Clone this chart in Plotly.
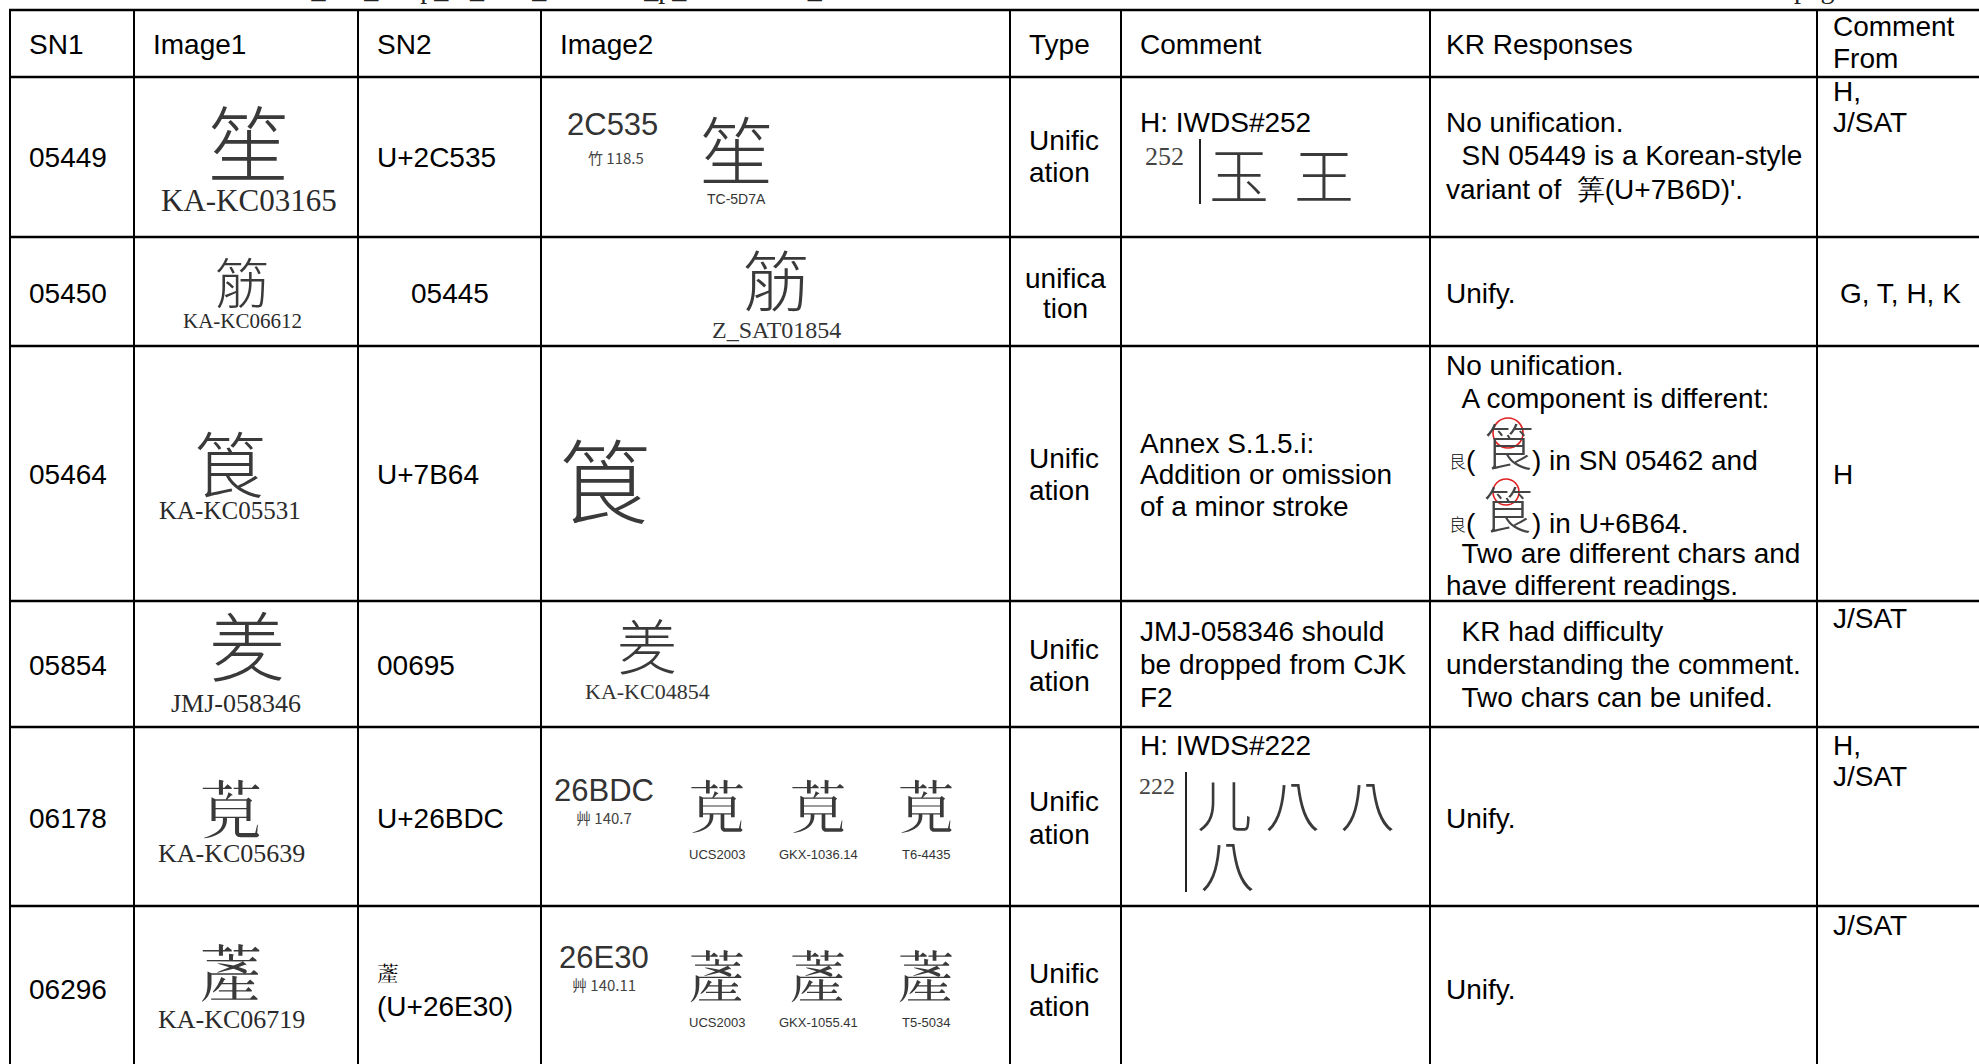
import plotly.graph_objects as go

# ---------------- data (texts of the table) ----------------
HEADERS = ["SN1", "Image1", "SN2", "Image2", "Type", "Comment", "KR Responses", ["Comment", "From"]]
SN1 = ["05449", "05450", "05464", "05854", "06178", "06296"]
SN2 = [["U+2C535"], ["05445"], ["U+7B64"], ["00695"], ["U+26BDC"], ["𦸰", "(U+26E30)"]]
IMG1_CHAR = ["笙", "筋", "筤", "羑", "𦯜", "𦸰"]
IMG1_LABEL = ["KA-KC03165", "KA-KC06612", "KA-KC05531", "JMJ-058346", "KA-KC05639", "KA-KC06719"]
IMG2_CODE = ["2C535", "", "", "", "26BDC", "26E30"]
IMG2_RADICAL = ["竹 118.5", "", "", "", "艸 140.7", "艸 140.11"]
IMG2_CHARS = [["笙"], ["筋"], ["筤"], ["羑"], ["𦯜", "𦯜", "𦯜"], ["𦸰", "𦸰", "𦸰"]]
IMG2_LABELS = [["TC-5D7A"], ["Z_SAT01854"], [""], ["KA-KC04854"],
               ["UCS2003", "GKX-1036.14", "T6-4435"], ["UCS2003", "GKX-1055.41", "T5-5034"]]
TYPE = [["Unific", "ation"], ["unifica", "tion"], ["Unific", "ation"],
        ["Unific", "ation"], ["Unific", "ation"], ["Unific", "ation"]]
COMMENT = [["H: IWDS#252"], [], ["Annex S.1.5.i:", "Addition or omission", "of a minor stroke"],
           ["JMJ-058346 should", "be dropped from CJK", "F2"], ["H: IWDS#222"], []]
IWDS_NO = ["252", "", "", "", "222", ""]
IWDS_GLYPHS = [[["玉", "王"]], [], [], [], [["儿", "八", "八"], ["八"]], []]
NB = "\u00a0\u00a0"
KR = [["No unification.", NB + "SN 05449 is a Korean-style", "variant of  筭(U+7B6D)'."],
      ["Unify."],
      ["No unification.", NB + "A component is different:", None, None,
       NB + "Two are different chars and", "have different readings."],
      [NB + "KR had difficulty", "understanding the comment.", NB + "Two chars can be unifed."],
      ["Unify."],
      ["Unify."]]
KR_COMPONENTS = [("艮", "筤", ") in SN 05462 and"), ("良", "筤", ") in U+6B64.")]
FROM = [["H,", "J/SAT"], ["G, T, H, K"], ["H"], ["J/SAT"], ["H,", "J/SAT"], ["J/SAT"]]
# running header of the page, cut off by the top edge (only descenders show)
PAGE_HEADER = ["IRGN2493_KR_Resp_to_IRG_WS2021_p_Comments_v", "page"]

# ---------------- layout (geometry, pixels) ----------------
W, H = 1979, 1064
COL_EDGES = [10, 134, 358, 541, 1010, 1121, 1430, 1817]
ROW_EDGES = [10, 77, 237, 346, 601, 727, 906]
PAD = 17
SANS = "Liberation Sans, Arial, sans-serif"
NARROW = "Liberation Sans Narrow, Liberation Sans, Arial, sans-serif"
SERIF = "Liberation Serif, Times New Roman, serif"
CJK = "Noto Sans CJK TC, Noto Sans CJK SC, Noto Sans CJK JP, Noto Sans CJK KR, sans-serif"
FS = 28
GLYPH_COLOR = "#3a3a3a"

PAGE_HEADER_X = [185, 1792]
PAGE_HEADER_SHIFT = -6
HEADER_Y = [44, 44, 44, 44, 44, 44, 44, [26, 58]]
SN1_Y = [157, 293, 474, 665, 818, 989]
SN2_Y = [[157], [293], [474], [665], [818], [972, 1006]]
IMG1_POS = [(248, 139, 82), (242, 280, 54), (230, 460, 72), (247, 643, 76), (231, 806, 64), (231, 970, 64)]
IMG1_LBL_POS = [(249, 200, 31), (242, 321, 21), (230, 510, 25), (236, 703, 26), (231, 853, 26), (231, 1019, 26)]
IMG2_CODE_POS = [(612, 124), None, None, None, (604, 790), (604, 957)]
IMG2_RAD_POS = [(616, 157), None, None, None, (604, 817), (604, 984)]
IMG2_POS = [[(736, 146, 74)], [(776, 277, 66)], [(605, 476, 92)], [(647, 643, 60)],
            [(717, 804, 58), (818, 804, 58), (926, 804, 58)],
            [(717, 974, 58), (818, 974, 58), (926, 974, 58)]]
IMG2_LBL_Y = [(199, 14, NARROW), (330, 24, SERIF), (0, 0, SERIF), (691, 22, SERIF), (854, 13, NARROW), (1022, 13, NARROW)]
TYPE_Y = [[140, 172], [278, 308], [458, 490], [649, 681], [801, 834], [973, 1006]]
COMMENT_Y = [[122], [], [443, 474, 506], [631, 664, 697], [745], []]
IWDS_LAYOUT = [dict(num=(1143, 140, 26), bar=(1200, 139, 204), rows=[[(1239, 172), (1324, 172)]], size=60),
               None, None, None,
               dict(num=(1137, 771, 24), bar=(1186, 772, 892),
                    rows=[[(1224, 802), (1292, 802), (1367, 802)], [(1227, 862)]], size=55),
               None]
KR_Y = [[122, 155, 189], [293], [365, 398, None, None, 553, 585], [631, 664, 697], [818], [989]]
KR_COMP_LAYOUT = [dict(small=(1447, 460), big=(1509, 444), rest=(1530, 460), circle=(1508, 433, 15)),
                  dict(small=(1447, 523), big=(1508, 507), rest=(1530, 523), circle=(1506, 492, 13))]
FROM_Y = [[91, 122], [293], [474], [618], [745, 776], [925]]
FROM_X = [1831, 1838, 1831, 1831, 1831, 1831]

annotations = []
shapes = []


def txt(x, y, s, size=FS, family=SANS, color="black", xanchor="left", yanchor="middle", weight=None):
    font = dict(size=size, family=family, color=color)
    if weight:
        font["weight"] = weight
    annotations.append(dict(x=x, y=y, xref="x", yref="y", text=s, showarrow=False,
                            xanchor=xanchor, yanchor=yanchor, font=font))


def glyph(x, y, s, size, color=GLYPH_COLOR):
    txt(x, y, s, size=size, family=CJK, color=color, xanchor="center", weight=300)


def line(x0, y0, x1, y1, w=2, color="black"):
    shapes.append(dict(type="line", xref="x", yref="y", x0=x0, y0=y0, x1=x1, y1=y1,
                       line=dict(color=color, width=w)))


# clipped running header (paper-referenced so it is not hidden; sits above the top edge)
for s, x in zip(PAGE_HEADER, PAGE_HEADER_X):
    annotations.append(dict(x=x / W, y=1, xref="paper", yref="paper", text=s, showarrow=False,
                            xanchor="left", yanchor="bottom", yshift=PAGE_HEADER_SHIFT,
                            font=dict(size=28, family=SERIF, color="#222222")))

# grid
for y in ROW_EDGES:
    line(COL_EDGES[0] - 1, y, W, y, w=2.6)
for x in COL_EDGES:
    line(x, ROW_EDGES[0], x, H, w=2)

# header
for c, h in enumerate(HEADERS):
    x = COL_EDGES[c] + PAD - (3 if c >= 6 else 0)
    if isinstance(h, list):
        for s, y in zip(h, HEADER_Y[c]):
            txt(x, y, s)
    else:
        txt(x, HEADER_Y[c], h)

for r in range(6):
    # SN1
    txt(COL_EDGES[0] + PAD, SN1_Y[r], SN1[r])
    # Image1
    gx, gy, gs = IMG1_POS[r]
    glyph(gx, gy, IMG1_CHAR[r], gs)
    lx, ly, ls = IMG1_LBL_POS[r]
    txt(lx, ly, IMG1_LABEL[r], size=ls, family=SERIF, color="#2a2a2a", xanchor="center")
    # SN2
    for k, s in enumerate(SN2[r]):
        if r == 1:
            txt((COL_EDGES[2] + COL_EDGES[3]) / 2, SN2_Y[r][k], s, xanchor="center")
        elif s == "𦸰":
            txt(COL_EDGES[2] + PAD, SN2_Y[r][k], s, size=22, family=CJK, weight=300)
        else:
            txt(COL_EDGES[2] + PAD, SN2_Y[r][k], s)
    # Image2
    if IMG2_CODE[r]:
        cx, cy = IMG2_CODE_POS[r]
        txt(cx, cy, IMG2_CODE[r], size=31, family=SANS, color="#333333", xanchor="center")
        rx, ry = IMG2_RAD_POS[r]
        txt(rx, ry, IMG2_RADICAL[r], size=15, family=CJK, color="#444444", xanchor="center")
    ly, lsz, lfam = IMG2_LBL_Y[r]
    for ch, (gx, gy, gs), lab in zip(IMG2_CHARS[r], IMG2_POS[r], IMG2_LABELS[r]):
        glyph(gx, gy, ch, gs)
        if lab:
            txt(gx, ly, lab, size=lsz, family=lfam, color="#333333", xanchor="center")
    # Type
    for s, y in zip(TYPE[r], TYPE_Y[r]):
        if r == 1:
            txt((COL_EDGES[4] + COL_EDGES[5]) / 2, y, s, xanchor="center")
        else:
            txt(COL_EDGES[4] + PAD, y, s)
    # Comment
    for s, y in zip(COMMENT[r], COMMENT_Y[r]):
        txt(COL_EDGES[5] + PAD, y, s)
    iw = IWDS_LAYOUT[r]
    if iw:
        nx, ny, ns = iw["num"]
        txt(nx, ny, IWDS_NO[r], size=ns, family=SERIF, color="#444444", yanchor="top")
        bx, by0, by1 = iw["bar"]
        line(bx, by0, bx, by1, w=2, color="#222222")
        for glyph_row, pos_row in zip(IWDS_GLYPHS[r], iw["rows"]):
            for g, (gx, gy) in zip(glyph_row, pos_row):
                glyph(gx, gy, g, iw["size"])
    # KR responses
    for s, y in zip(KR[r], KR_Y[r]):
        if s is not None:
            txt(COL_EDGES[6] + 14, y, s)
    if r == 2:
        for (small, big, rest), lay in zip(KR_COMPONENTS, KR_COMP_LAYOUT):
            sx, sy = lay["small"]
            txt(sx, sy, small, size=17, family=CJK, weight=300)
            txt(sx + 17, sy, "(", size=FS)
            bx, by = lay["big"]
            glyph(bx, by, big, 50, color="#444444")
            qx, qy = lay["rest"]
            txt(qx, qy, rest)
            cx, cy, cr = lay["circle"]
            shapes.append(dict(type="circle", xref="x", yref="y", x0=cx - cr, x1=cx + cr,
                               y0=cy - cr, y1=cy + cr, line=dict(color="#e02020", width=1.6)))
    # Comment From
    for s, y in zip(FROM[r], FROM_Y[r]):
        txt(FROM_X[r], y, s)

fig = go.Figure()
fig.update_layout(
    width=W, height=H, margin=dict(l=0, r=0, t=0, b=0),
    paper_bgcolor="white", plot_bgcolor="white",
    xaxis=dict(range=[0, W], visible=False, fixedrange=True),
    yaxis=dict(range=[H, 0], visible=False, fixedrange=True),
    annotations=annotations, shapes=shapes, showlegend=False,
)
fig.write_html("out.html", config={"displayModeBar": False, "staticPlot": True},
               post_script="document.body.style.margin='0';document.body.style.overflow='hidden';")
